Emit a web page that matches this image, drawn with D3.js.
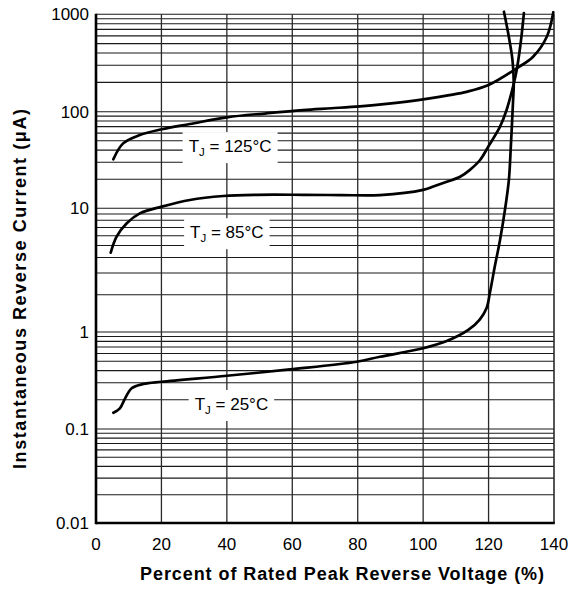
<!DOCTYPE html>
<html>
<head>
<meta charset="utf-8">
<script src="https://cdn.jsdelivr.net/npm/d3@7"></script>
<style>
  body { margin: 0; background: #fff; }
  svg { display: block; font-family: "Liberation Sans", Arial, Helvetica, sans-serif; }
</style>
</head>
<body>
<div id="chart"></div>
<script>
// axis values
const xTicks = [0, 20, 40, 60, 80, 100, 120, 140];
const yTicks = [0.01, 0.1, 1, 10, 100, 1000];
const yTickLabels = ["0.01", "0.1", "1", "10", "100", "1000"];

// curves (percent of rated voltage, current in uA)
const tj25X = [5.3, 7.3, 8.9, 10.9, 14.5, 20.1, 40, 59.3, 79.7, 86.8, 100, 107.2, 113.8, 117.3, 119.4, 120.4, 121.9, 123.5, 125, 126.2, 126.8, 127.5, 127.7, 127.3, 126, 124.7];
const tj25Y = [0.147, 0.163, 0.207, 0.263, 0.291, 0.307, 0.354, 0.412, 0.494, 0.556, 0.679, 0.807, 1.04, 1.26, 1.56, 2.07, 3.38, 5.55, 9.7, 19.6, 43.5, 132, 196, 340, 638, 1063];

const tj85X = [4.5, 6.3, 9.4, 13.4, 20.1, 28.7, 38.9, 49.1, 63.3, 75, 86.8, 100, 103.1, 107.2, 111.3, 114.3, 117.4, 119.9, 123.5, 125.5, 127.6, 128.6, 129.8, 130.8];
const tj85Y = [4.38, 5.9, 7.57, 9.1, 10.4, 12.2, 13.4, 13.8, 13.8, 13.7, 13.7, 15.5, 16.8, 18.8, 21.2, 25, 31.6, 43.5, 70, 104, 188, 268, 504, 1030];

const tj125X = [5.3, 8.3, 13.4, 20.1, 28.7, 40, 52.2, 63.3, 72, 80.7, 88, 95, 102, 108, 113.3, 120, 128.6, 133.6, 137.8, 139.8];
const tj125Y = [32.2, 47, 57.4, 65.8, 74.6, 87.5, 96.3, 104, 108.5, 113.5, 119.5, 127, 137, 148, 160, 188, 279, 367, 589, 1050];

const curveLabels = ["125", "85", "25"];
const labelX = [41, 40, 41.4];
const labelY = [44, 6.4, 0.181];

const W = 577, H = 592;
const svg = d3.select("#chart").append("svg").attr("width", W).attr("height", H);

const x = d3.scaleLinear().domain([0, 140]).range([96, 554]);
// the printed grid has uneven decades, so the log scale is piecewise
const y = d3.scaleLog()
    .domain([1000, 100, 10, 1, 0.1, 0.01])
    .range([14.3, 111.7, 208.3, 332, 429, 523]);

// horizontal grid: 1..9 in every decade
const gridVals = [];
for (let e = -2; e <= 2; e++) {
    for (let k = 1; k <= 9; k++) gridVals.push(k * Math.pow(10, e));
}
gridVals.push(1000);

svg.append("g").selectAll("line")
    .data(gridVals)
    .enter().append("line")
    .attr("x1", x(0)).attr("x2", x(140))
    .attr("y1", d => y(d)).attr("y2", d => y(d))
    .attr("stroke", "#1a1a1a")
    .attr("stroke-width", 1.1);

svg.append("g").selectAll("line")
    .data(xTicks.slice(1))
    .enter().append("line")
    .attr("x1", d => x(d)).attr("x2", d => x(d))
    .attr("y1", y(1000)).attr("y2", y(0.01))
    .attr("stroke", "#2a2a2a")
    .attr("stroke-width", d => d === 140 ? 1.6 : 1.3);

// left and bottom frame
svg.append("line")
    .attr("x1", x(0)).attr("x2", x(0))
    .attr("y1", y(1000) - 0.5).attr("y2", y(0.01) + 1.2)
    .attr("stroke", "#000").attr("stroke-width", 2.6);
svg.append("line")
    .attr("x1", x(0)).attr("x2", x(140) + 0.8)
    .attr("y1", y(0.01)).attr("y2", y(0.01))
    .attr("stroke", "#000").attr("stroke-width", 2.6);

// curves (25C bends back near the top, so no monotone curve here)
const line = d3.line()
    .x(d => x(d[0]))
    .y(d => y(d[1]))
    .curve(d3.curveCatmullRom.alpha(0.5));

const series = [
    d3.zip(tj125X, tj125Y),
    d3.zip(tj85X, tj85Y),
    d3.zip(tj25X, tj25Y)
];

svg.append("g").selectAll("path")
    .data(series)
    .enter().append("path")
    .attr("d", line)
    .attr("fill", "none")
    .attr("stroke", "#000")
    .attr("stroke-width", 2.7)
    .attr("stroke-linecap", "round")
    .attr("stroke-linejoin", "round");

// curve labels on white boxes
curveLabels.forEach((t, i) => {
    const g = svg.append("g");
    const bg = g.append("rect").attr("fill", "#fff");
    const txt = g.append("text")
        .attr("x", x(labelX[i]))
        .attr("y", y(labelY[i]))
        .attr("dy", "0.35em")
        .attr("text-anchor", "middle")
        .attr("font-size", 17)
        .attr("fill", "#000");
    txt.append("tspan").text("T");
    txt.append("tspan").attr("font-size", 11.5).attr("dy", 4).text("J");
    txt.append("tspan").attr("dy", -4).text(" = " + t + "\u00B0C");
    const b = txt.node().getBBox();
    bg.attr("x", b.x - 6).attr("y", b.y - 5)
        .attr("width", b.width + 12).attr("height", b.height + 10);
});

// tick labels
svg.append("g").selectAll("text")
    .data(yTicks)
    .enter().append("text")
    .attr("x", 89)
    .attr("y", d => y(d))
    .attr("dy", "0.36em")
    .attr("text-anchor", "end")
    .attr("font-size", 17)
    .text((d, i) => yTickLabels[i]);

svg.append("g").selectAll("text")
    .data(xTicks)
    .enter().append("text")
    .attr("x", d => x(d))
    .attr("y", 550)
    .attr("text-anchor", "middle")
    .attr("font-size", 17)
    .text(d => d);

// axis titles
svg.append("text")
    .attr("x", 342)
    .attr("y", 580)
    .attr("text-anchor", "middle")
    .attr("font-size", 18)
    .attr("font-weight", "bold")
    .attr("textLength", 404)
    .attr("lengthAdjust", "spacing")
    .text("Percent of Rated Peak Reverse Voltage (%)");

svg.append("text")
    .attr("transform", "translate(26,289) rotate(-90)")
    .attr("text-anchor", "middle")
    .attr("font-size", 18)
    .attr("font-weight", "bold")
    .attr("textLength", 360)
    .attr("lengthAdjust", "spacing")
    .text("Instantaneous Reverse Current (\u03BCA)");
</script>
</body>
</html>
